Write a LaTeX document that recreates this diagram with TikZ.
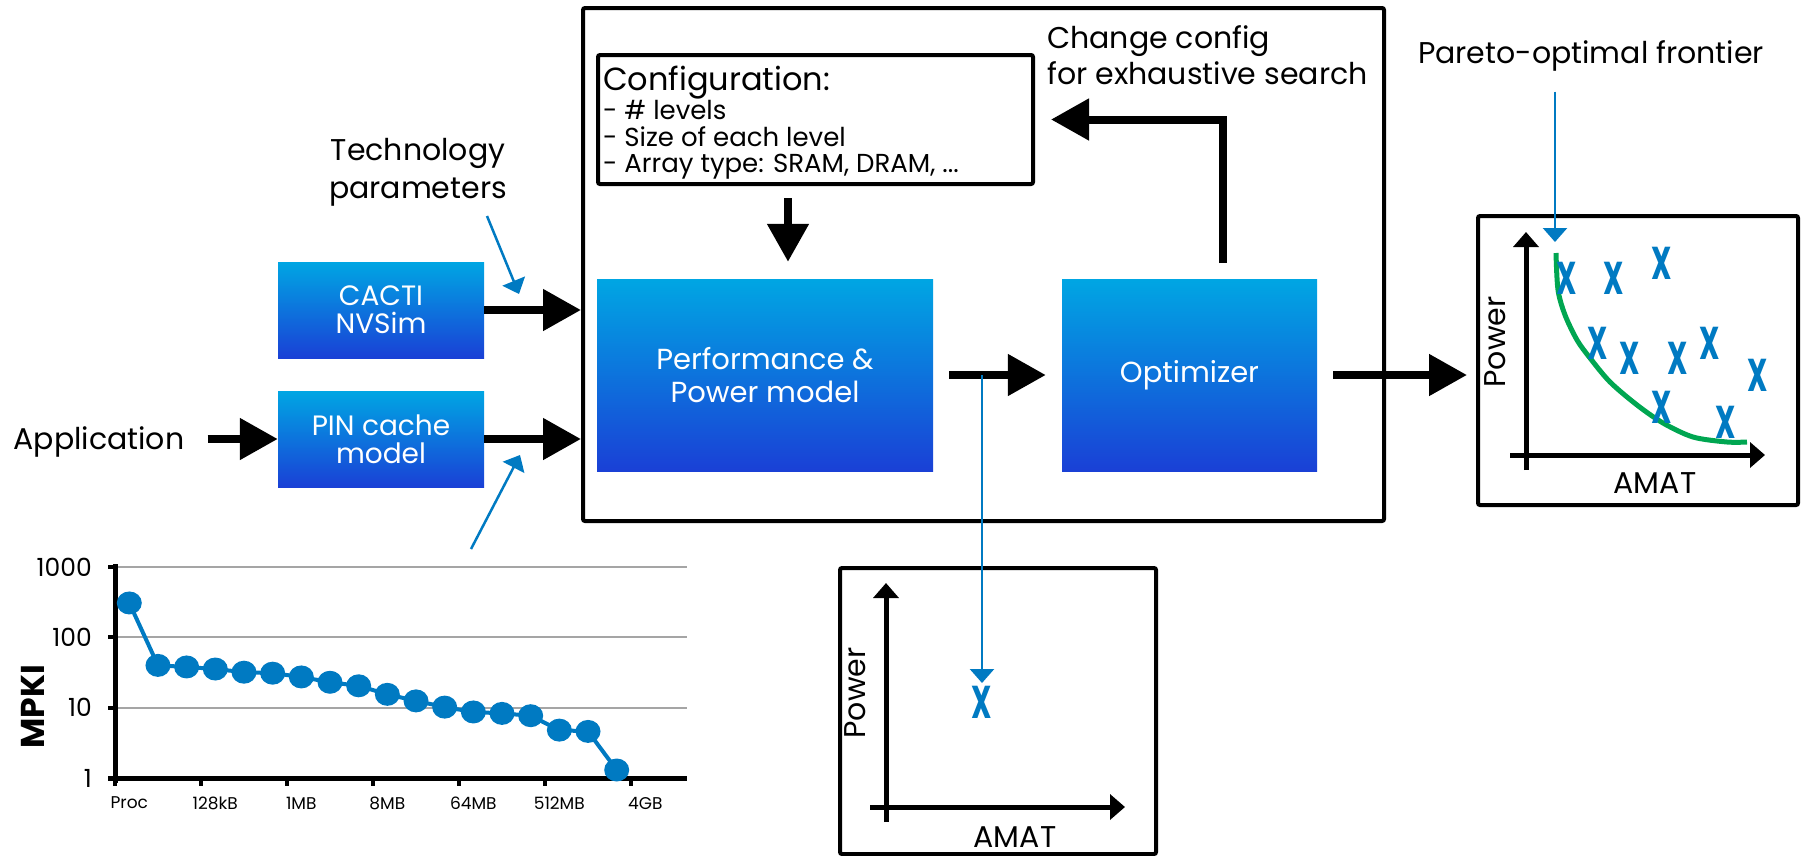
\documentclass[tikz,border=0pt]{standalone}
\usepackage{fontspec}
\setmainfont{Poppins}
\usetikzlibrary{arrows.meta}
\definecolor{boxtop}{RGB}{0,166,227}
\definecolor{boxbot}{RGB}{26,64,214}
\definecolor{mpblue}{RGB}{0,122,194}
\definecolor{pgreen}{RGB}{0,166,81}
\definecolor{gridgray}{RGB}{165,165,165}
\newcommand{\fsz}[1]{\fontsize{#1}{#1}\selectfont}
\newcommand{\xmk}{\scalebox{0.62}[1]{\bfseries X}}

\begin{document}
\begin{tikzpicture}[x=10pt,y=10pt]
\tikzstyle{every node}+=[inner sep=0pt]
\tikzstyle{blk}=[top color=boxtop, bottom color=boxbot, text=white, align=center]
\tikzstyle{frm}=[draw, line width=4pt, rounded corners=2pt, anchor=north west]
\tikzstyle{bigarrow}=[line width=8pt, -{Triangle[length=38pt,width=40pt]}]
\tikzstyle{bluearrow}=[mpblue, line width=2.5pt, -{Triangle[length=14pt,width=24pt]}]
\tikzstyle{axisarrow}=[line width=5pt, -{Triangle[length=15pt,width=25pt]}]
\tikzstyle{xmark}=[text=mpblue, font=\fsz{46}]
\tikzstyle{lbl}=[font=\fsz{30}]
\useasboundingbox (0,0) rectangle (180.2,-85.5);
% system box and configuration
\node[frm, minimum width=801pt, minimum height=513pt] (sys) at (58.1,-0.6) {};
\node[frm, minimum width=435pt, minimum height=129pt] (cfg) at (59.6,-5.3) {};
\node[anchor=north west, align=left, font=\fontsize{26}{26.5}\selectfont] (cfgtxt) at (60.3,-6.6) {{\fsz{32}Configuration:}\\- \# levels\\- Size of each level\\- Array type: SRAM, DRAM, ...};
% blue blocks
\node[blk, minimum width=206pt, minimum height=96pt, font=\fontsize{28}{28}\selectfont] (cacti) at (38.1,-31.0) {CACTI\\NVSim};
\node[blk, minimum width=206pt, minimum height=96pt, font=\fontsize{28}{28}\selectfont] (pin) at (38.1,-43.9) {PIN cache\\model};
\node[blk, minimum width=336pt, minimum height=192pt, font=\fontsize{29}{33}\selectfont] (perf) at (76.5,-37.5) {Performance \&\\Power model};
\node[blk, minimum width=255pt, minimum height=192pt, font=\fsz{29}] (opt) at (118.95,-37.5) {Optimizer};
% labels
\node[align=center, font=\fontsize{30}{38}\selectfont] (tech) at (41.8,-17.2) {Technology\\parameters};
\node[lbl] (app) at (9.9,-44.2) {Application};
\node[anchor=west, align=left, font=\fontsize{30}{36}\selectfont] (chg) at (104.7,-5.5) {Change config\\for exhaustive search};
\node[lbl] (pareto) at (159.1,-5.6) {Pareto-optimal frontier};
% plot boxes
\node[frm, minimum width=320pt, minimum height=289pt] (front) at (147.6,-21.4) {};
\node[frm, minimum width=316pt, minimum height=286pt] (single) at (83.8,-56.6) {};
% black arrows
\draw[bigarrow] (cacti.east) -- (cacti.east -| sys.west);
\draw[bigarrow] (pin.east) -- (pin.east -| sys.west);
\draw[bigarrow, shorten <=23pt] (app.east |- pin.west) -- (pin.west);
\coordinate (cfgout) at (78.8,-19.8);
\draw[bigarrow, shorten >=17pt] (cfgout) -- (cfgout |- perf.north);
\draw[bigarrow, shorten <=16pt, shorten >=16pt] (perf) -- (opt);
\coordinate (fbk) at (122.3,-26.3);
\draw[bigarrow, shorten >=16pt] (fbk) |- (cfg.east);
\draw[bigarrow, shorten <=16pt, shorten >=9pt] (opt) -- (opt -| front.west);
% frontier plot
\draw[axisarrow] (152.6,-47.0) -- (152.6,-23.2);
\draw[axisarrow] (151.0,-45.5) -- (176.5,-45.5);
\node[lbl, rotate=90] (pw1) at (149.5,-34.2) {Power};
\node[lbl] (am1) at (165.5,-48.3) {AMAT};
\draw[pgreen, line width=5pt] plot[smooth] coordinates {(155.6,-25.3) (155.8,-29.0) (156.5,-31.5) (157.7,-34.0) (159.0,-35.8) (161.0,-38.2) (163.7,-40.5) (166.3,-42.3) (169.3,-43.7) (172.7,-44.2) (174.7,-44.2)};
\foreach \px/\py [count=\k] in {156.7/-27.8, 161.4/-27.8, 166.2/-26.3, 159.8/-34.3, 163.0/-35.8, 167.8/-35.8, 171.0/-34.3, 175.8/-37.5, 166.2/-40.7, 172.6/-42.2}
  \node[xmark] (x\k) at (\px,\py) {\xmk};
\coordinate (ptip) at (155.5,-24.2);
\draw[bluearrow, shorten <=20pt] (ptip |- pareto.south) -- (ptip);
% single point plot
\draw[axisarrow] (88.6,-82.2) -- (88.6,-58.3);
\draw[axisarrow] (87.0,-80.7) -- (112.5,-80.7);
\node[lbl, rotate=90] (pw2) at (85.5,-69.3) {Power};
\node[lbl] (am2) at (101.5,-83.7) {AMAT};
\node[xmark] (xs) at (98.2,-70.2) {\xmk};
\coordinate (stip) at (98.2,-68.3);
\draw[bluearrow] (stip |- perf.east) -- (stip);
% blue pointers
\coordinate (ta) at (48.7,-21.6);
\coordinate (tb) at (51.9,-29.4);
\draw[bluearrow] (ta) -- (tb);
\coordinate (pa) at (47.1,-54.9);
\coordinate (pb) at (52.0,-45.5);
\draw[bluearrow] (pa) -- (pb);
% MPKI chart
\foreach \g in {1,2,3}
  \draw[gridgray, line width=2pt] (11.5,{-77.8+7.03*\g}) -- (68.7,{-77.8+7.03*\g});
\draw[line width=5pt] (11.5,-56.4) -- (11.5,-78.3);
\draw[line width=5pt] (10.8,-77.8) -- (68.7,-77.8);
\foreach \g in {0,...,3}
  \draw[line width=4pt] (10.8,{-77.8+7.03*\g}) -- (11.5,{-77.8+7.03*\g});
\foreach \t in {0,...,6}
  \draw[line width=4pt] ({11.5+8.6*\t},-77.8) -- ({11.5+8.6*\t},-78.6);
\foreach \g/\lab in {0/1,1/10,2/100,3/1000}
  \node[anchor=east, font=\fsz{25}] (yl\g) at (9.2,{-77.8+7.03*\g}) {\lab};
\foreach \lab [count=\t from 0] in {Proc,128kB,1MB,8MB,64MB,512MB,4GB}
  \node[font=\fsz{17}] (xl\t) at ({12.93+8.6*\t},-80.3) {\lab};
\node[rotate=90, font=\bfseries\fsz{33}] (mpki) at (3.3,-70.7) {MPKI};
\foreach \v [count=\i] in {309,40,38,35.5,32,31,27.4,23,20.5,15.5,12.5,10.2,8.7,8.3,7.7,4.8,4.6,1.3}
  \coordinate (p\i) at ({12.93+2.867*(\i-1)},{-77.8+7.03*ln(\v)/2.302585});
\draw[mpblue, line width=4pt] (p1) \foreach \i in {2,...,18} {-- (p\i)};
\foreach \i in {1,...,18}
  \fill[mpblue] (p\i) ellipse (1.25 and 1.15);
\end{tikzpicture}
\end{document}
